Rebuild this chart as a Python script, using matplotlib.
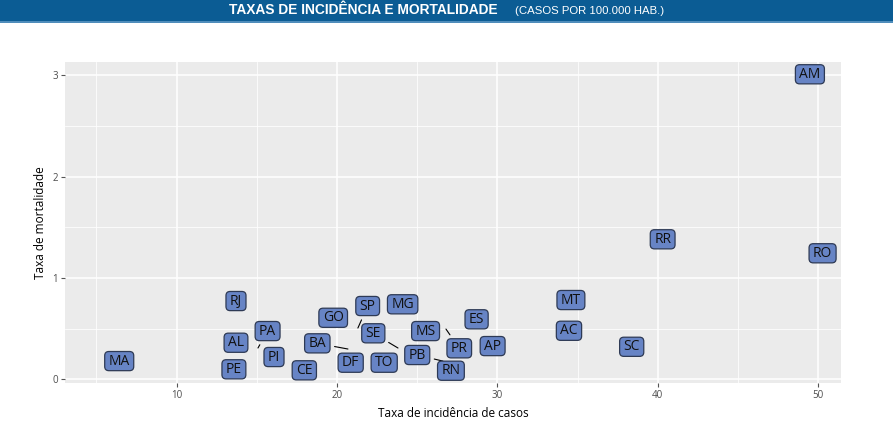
import matplotlib
matplotlib.use("Agg")
import matplotlib.pyplot as plt
from matplotlib.patches import Rectangle, BoxStyle

# ---- data ----
estados = ["MA", "RJ", "AL", "PE", "PA", "PI", "CE", "BA", "GO", "DF", "SP", "SE",
           "MG", "TO", "PB", "MS", "PR", "RN", "ES", "AP", "MT", "AC", "SC", "RR",
           "RO", "AM"]
incidencia = [6.42, 13.70, 13.70, 13.57, 15.07, 16.07, 17.96, 20.68, 19.76, 20.85,
              21.30, 23.80, 24.09, 22.94, 26.60, 25.52, 26.79, 27.10, 28.70, 29.70,
              34.58, 34.46, 38.37, 40.30, 50.27, 49.48]
mortalidade = [0.18, 0.772, 0.361, 0.099, 0.309, 0.22, 0.089, 0.299, 0.607, 0.164,
               0.506, 0.309, 0.74, 0.164, 0.180, 0.476, 0.496, 0.085, 0.592, 0.328,
               0.782, 0.479, 0.321, 1.381, 1.243, 3.008]

# repelled label placement (layout only)
label_pos = {
    "PA": (15.67, 0.476),
    "BA": (18.77, 0.355),
    "SP": (21.91, 0.723),
    "SE": (22.26, 0.454),
    "PB": (25.00, 0.240),
    "PR": (27.62, 0.306),
}

titulo = "TAXAS DE INCIDÊNCIA E MORTALIDADE"
subtitulo = "(CASOS POR 100.000 HAB.)"
xlabel = "Taxa de incidência de casos"
ylabel = "Taxa de mortalidade"
xticks = [10, 20, 30, 40, 50]
yticks = [0, 1, 2, 3]


class LabelBox:
    """Rounded box with separate horizontal / vertical padding."""
    def __init__(self, padx=0.28, pady=0.15, r=0.3):
        self.padx, self.pady = padx, pady
        self.round = BoxStyle.Round(pad=0, rounding_size=r)

    def __call__(self, x0, y0, width, height, mutation_size):
        px = self.padx * mutation_size
        py = self.pady * mutation_size
        return self.round(x0 - px, y0 - py, width + 2 * px, height + 2 * py,
                          mutation_size)


# ---- figure ----
W, H = 893, 447
fig = plt.figure(figsize=(W / 100, H / 100), dpi=100)
fig.patch.set_facecolor("white")

# header bar
fig.patches.append(Rectangle((0, 1 - 21 / H), 1, 21 / H, transform=fig.transFigure,
                             facecolor="#0b5c94", edgecolor="none", zorder=0))
fig.patches.append(Rectangle((0, 1 - 22.5 / H), 1, 1.5 / H, transform=fig.transFigure,
                             facecolor="#4f8dbb", edgecolor="none", zorder=0))
fig.text(498 / W, 1 - 10.5 / H, titulo, ha="right", va="center", color="white",
         fontsize=9.9, fontweight="bold", family="Liberation Sans")
fig.text(515 / W, 1 - 10.5 / H, subtitulo, ha="left", va="center", color="white",
         fontsize=8.2, family="Liberation Sans")

ax = fig.add_axes([65 / W, (H - 383.3) / H, (840.7 - 65) / W, (383.3 - 61.7) / H])
ax.set_facecolor("#ebebeb")
ax.set_xlim(3.04, 51.4)
ax.set_ylim(-0.039, 3.132)
for s in ax.spines.values():
    s.set_visible(False)

ax.set_xticks(xticks)
ax.set_yticks(yticks)
ax.set_xticks([5, 15, 25, 35, 45], minor=True)
ax.set_yticks([0.5, 1.5, 2.5], minor=True)
ax.grid(True, which="major", color="white", lw=1.1)
ax.grid(True, which="minor", color="white", lw=0.55)
ax.set_axisbelow(True)
ax.tick_params(which="major", length=3, width=0.8, color="#555555",
               labelsize=7, labelcolor="#4d4d4d", pad=2)
ax.tick_params(which="minor", length=0)
for lab in ax.get_xticklabels() + ax.get_yticklabels():
    lab.set_family("Open Sans")

ax.set_xlabel(xlabel, fontsize=8.5, family="Open Sans", color="black", labelpad=4)
ax.set_ylabel(ylabel, fontsize=8.5, family="Open Sans", color="black", labelpad=4)

box = dict(boxstyle=LabelBox(), fc="#6784c5", ec="#2e3a55", lw=0.9)
for st, x, y in zip(estados, incidencia, mortalidade):
    if st in label_pos:
        lx, ly = label_pos[st]
        ax.annotate(st, xy=(x, y), xytext=(lx, ly), ha="center", va="center",
                    fontsize=10, family="Open Sans", color="#111111", bbox=box,
                    arrowprops=dict(arrowstyle="-", color="black", lw=0.8,
                                    shrinkA=3, shrinkB=0))
    else:
        ax.text(x, y, st, ha="center", va="center", fontsize=10,
                family="Open Sans", color="#111111", bbox=box)

fig.savefig("out.png", dpi=100)
